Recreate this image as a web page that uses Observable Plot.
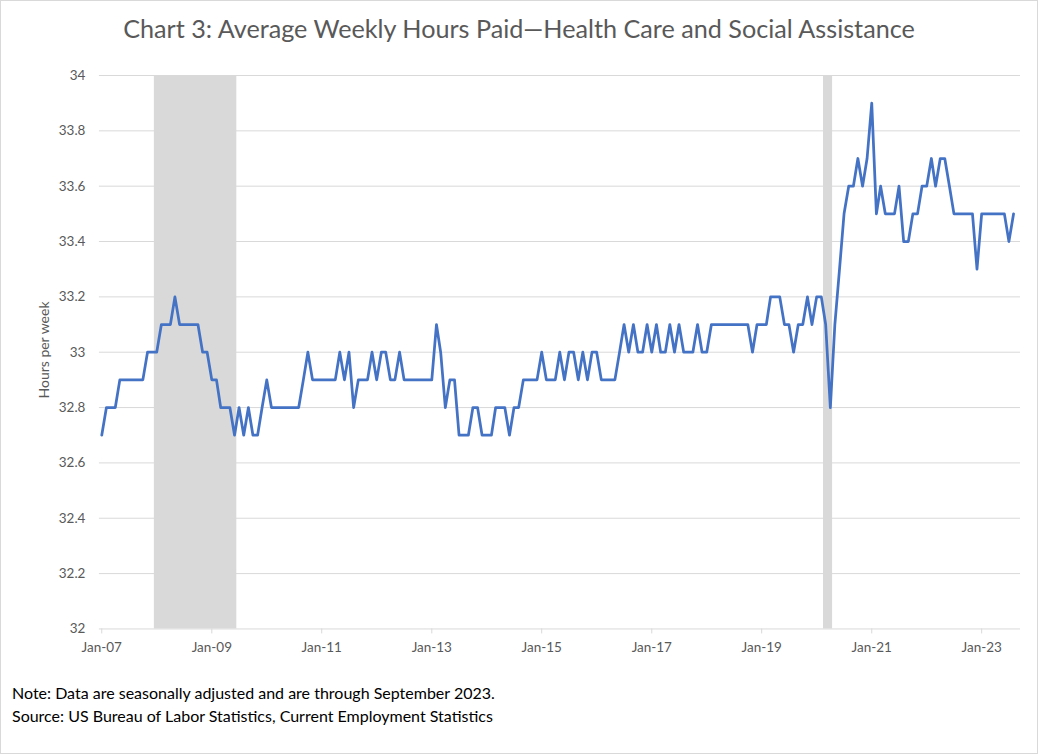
<!DOCTYPE html>
<html>
<head>
<meta charset="utf-8">
<script src="https://cdn.jsdelivr.net/npm/d3@7"></script>
<script src="https://cdn.jsdelivr.net/npm/@observablehq/plot@0.6"></script>
<style>
html,body{margin:0;padding:0;background:#fff;}
#frame{position:relative;width:1036px;height:752px;border:1px solid #d9d9d9;background:#fff;overflow:hidden;font-family:Lato,"Open Sans",sans-serif;}
#title{position:absolute;left:0;width:1036px;top:12px;text-align:center;font-size:25.2px;color:#595959;white-space:nowrap;}
#chart{position:absolute;left:-1px;top:59px;}
#ytitle{position:absolute;left:42px;top:349px;transform:translate(-50%,-50%) rotate(-90deg);font-size:14px;color:#595959;white-space:nowrap;}
#note{position:absolute;left:11px;top:680px;font-size:16px;color:#000;line-height:23px;white-space:nowrap;}
</style>
</head>
<body>
<div id="frame">
  <div id="title">Chart 3: Average Weekly Hours Paid—Health Care and Social Assistance</div>
  <div id="chart"></div>
  <div id="ytitle"></div>
  <div id="note">Note: Data are seasonally adjusted and are through September 2023.<br>Source: US Bureau of Labor Statistics, Current Employment Statistics</div>
</div>
<script>
// Monthly values, starting January 2007
const startYear = 2007;
const hours2007 = [32.7, 32.8, 32.8, 32.8, 32.9, 32.9, 32.9, 32.9, 32.9, 32.9, 33.0, 33.0];
const hours2008 = [33.0, 33.1, 33.1, 33.1, 33.2, 33.1, 33.1, 33.1, 33.1, 33.1, 33.0, 33.0];
const hours2009 = [32.9, 32.9, 32.8, 32.8, 32.8, 32.7, 32.8, 32.7, 32.8, 32.7, 32.7, 32.8];
const hours2010 = [32.9, 32.8, 32.8, 32.8, 32.8, 32.8, 32.8, 32.8, 32.9, 33.0, 32.9, 32.9];
const hours2011 = [32.9, 32.9, 32.9, 32.9, 33.0, 32.9, 33.0, 32.8, 32.9, 32.9, 32.9, 33.0];
const hours2012 = [32.9, 33.0, 33.0, 32.9, 32.9, 33.0, 32.9, 32.9, 32.9, 32.9, 32.9, 32.9];
const hours2013 = [32.9, 33.1, 33.0, 32.8, 32.9, 32.9, 32.7, 32.7, 32.7, 32.8, 32.8, 32.7];
const hours2014 = [32.7, 32.7, 32.8, 32.8, 32.8, 32.7, 32.8, 32.8, 32.9, 32.9, 32.9, 32.9];
const hours2015 = [33.0, 32.9, 32.9, 32.9, 33.0, 32.9, 33.0, 33.0, 32.9, 33.0, 32.9, 33.0];
const hours2016 = [33.0, 32.9, 32.9, 32.9, 32.9, 33.0, 33.1, 33.0, 33.1, 33.0, 33.0, 33.1];
const hours2017 = [33.0, 33.1, 33.0, 33.0, 33.1, 33.0, 33.1, 33.0, 33.0, 33.0, 33.1, 33.0];
const hours2018 = [33.0, 33.1, 33.1, 33.1, 33.1, 33.1, 33.1, 33.1, 33.1, 33.1, 33.0, 33.1];
const hours2019 = [33.1, 33.1, 33.2, 33.2, 33.2, 33.1, 33.1, 33.0, 33.1, 33.1, 33.2, 33.1];
const hours2020 = [33.2, 33.2, 33.1, 32.8, 33.1, 33.3, 33.5, 33.6, 33.6, 33.7, 33.6, 33.7];
const hours2021 = [33.9, 33.5, 33.6, 33.5, 33.5, 33.5, 33.6, 33.4, 33.4, 33.5, 33.5, 33.6];
const hours2022 = [33.6, 33.7, 33.6, 33.7, 33.7, 33.6, 33.5, 33.5, 33.5, 33.5, 33.5, 33.3];
const hours2023 = [33.5, 33.5, 33.5, 33.5, 33.5, 33.5, 33.4, 33.5];

const xTickYears = [2007, 2009, 2011, 2013, 2015, 2017, 2019, 2021, 2023];
const xTickLabels = ["Jan-07", "Jan-09", "Jan-11", "Jan-13", "Jan-15", "Jan-17", "Jan-19", "Jan-21", "Jan-23"];
const yTicks = [32, 32.2, 32.4, 32.6, 32.8, 33, 33.2, 33.4, 33.6, 33.8, 34];
const yTickLabels = ["32", "32.2", "32.4", "32.6", "32.8", "33", "33.2", "33.4", "33.6", "33.8", "34"];
const yTitle = "Hours per week";
const recessionFirstMonths = ["2008-01", "2020-03"];
const recessionLastMonths = ["2009-06", "2020-04"];
const lastAxisMonth = "2023-09";

const hours = [].concat(hours2007, hours2008, hours2009, hours2010, hours2011, hours2012,
  hours2013, hours2014, hours2015, hours2016, hours2017, hours2018, hours2019, hours2020,
  hours2021, hours2022, hours2023);

const month = i => new Date(Date.UTC(startYear, i, 1));
const parseMonth = s => { const [y, m] = s.split("-").map(Number); return new Date(Date.UTC(y, m - 1, 1)); };
const shift = (d, k) => new Date(Date.UTC(d.getUTCFullYear(), d.getUTCMonth() + k, 1));
const mid = (a, b) => new Date((a.getTime() + b.getTime()) / 2);

const data = hours.map((v, i) => ({date: month(i), value: v}));
const recessions = recessionFirstMonths.map((s, i) => {
  const a = parseMonth(s), b = parseMonth(recessionLastMonths[i]);
  return {x1: mid(shift(a, -1), a), x2: mid(b, shift(b, 1))};
});
const lastM = parseMonth(lastAxisMonth);
const xTicks = xTickYears.map(y => new Date(Date.UTC(y, 0, 1)));
const yMin = yTicks[0], yMax = yTicks[yTicks.length - 1];

document.getElementById("ytitle").textContent = yTitle;

const chart = Plot.plot({
  width: 1038,
  height: 604,
  marginLeft: 99,
  marginRight: 17,
  marginTop: 15,
  marginBottom: 35,
  style: {fontFamily: "Lato, 'Open Sans', sans-serif", fontSize: "13.5px", color: "#595959", background: "transparent", overflow: "visible"},
  x: {type: "utc", domain: [mid(shift(month(0), -1), month(0)), mid(lastM, shift(lastM, 1))]},
  y: {domain: [yMin, yMax]},
  marks: [
    Plot.gridY(yTicks, {stroke: "#d9d9d9", strokeOpacity: 1, strokeWidth: 1}),
    Plot.rect(recessions, {x1: "x1", x2: "x2", y1: () => yMin, y2: () => yMax, fill: "#d9d9d9"}),
    Plot.axisY(yTicks, {
      tickSize: 0, tickPadding: 14,
      tickFormat: d => yTickLabels[yTicks.indexOf(d)],
      label: null
    }),
    Plot.axisX(xTicks, {
      tickSize: 5, tickPadding: 8, stroke: "#d9d9d9",
      tickFormat: d => xTickLabels[xTickYears.indexOf(d.getUTCFullYear())],
      label: null
    }),
    Plot.lineY(data, {x: "date", y: "value", stroke: "#4472C4", strokeWidth: 2.75, strokeLinejoin: "round", strokeLinecap: "round"})
  ]
});
document.getElementById("chart").appendChild(chart);
</script>
</body>
</html>
